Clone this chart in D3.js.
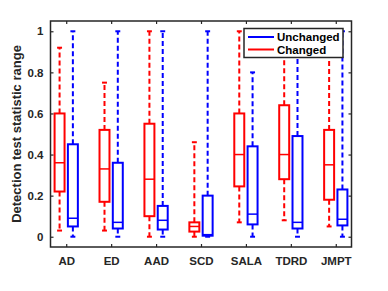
<!DOCTYPE html>
<html><head><meta charset="utf-8">
<script src="https://cdn.jsdelivr.net/npm/d3@7"></script>
<style>body{margin:0;background:#fff}svg{display:block}text{font-family:"Liberation Sans",Arial,sans-serif;font-weight:bold}</style>
</head><body>
<script>
const categories = ["AD","ED","AAD","SCD","SALA","TDRD","JMPT"];
// [whiskerLow, q1, median, q3, whiskerHigh]
const changed = [
  [0.03,0.22,0.36,0.60,0.92],
  [0.03,0.17,0.33,0.52,0.75],
  [0.00,0.10,0.28,0.55,1.00],
  [0.00,0.025,0.05,0.07,0.46],
  [0.07,0.245,0.40,0.60,1.00],
  [0.08,0.28,0.40,0.64,1.00],
  [0.05,0.18,0.35,0.52,1.00]
];
const unchanged = [
  [0.00,0.05,0.09,0.45,1.00],
  [0.00,0.04,0.07,0.36,1.00],
  [0.00,0.035,0.08,0.15,1.00],
  [0.00,0.005,0.01,0.20,1.00],
  [0.00,0.06,0.11,0.44,0.80],
  [0.00,0.04,0.07,0.49,1.00],
  [0.00,0.055,0.085,0.23,1.00]
];
const yTicks = [0,0.2,0.4,0.6,0.8,1];
const seriesNames = ["Unchanged","Changed"];
const colors = {Changed:"#ff0000", Unchanged:"#0000ff"};

const W=388,H=291, L=50.5, R=351.5, T=21, B=247;
const svg = d3.select("body").append("svg").attr("width",W).attr("height",H);
const x = d3.scaleLinear().domain([0.65,7.35]).range([L,R]);
const y = d3.scaleLinear().domain([-0.05,1.05]).range([B,T]);
const off = 0.148, bw = 0.222, capW = 0.11;

function drawBoxes(data, color, dx){
  const g = svg.append("g");
  data.forEach((d,i)=>{
    const cx = x(i+1+dx);
    const [lo,q1,md,q3,hi] = d;
    const xl = x(i+1+dx-bw/2), xr = x(i+1+dx+bw/2);
    g.append("line").attr("x1",cx).attr("x2",cx).attr("y1",y(q3)).attr("y2",y(hi))
      .attr("stroke",color).attr("stroke-width",2).attr("stroke-dasharray","5,3");
    g.append("line").attr("x1",cx).attr("x2",cx).attr("y1",y(q1)).attr("y2",y(lo))
      .attr("stroke",color).attr("stroke-width",2).attr("stroke-dasharray","5,3");
    const cw = x(capW)-x(0);
    [lo,hi].forEach(v=>g.append("line").attr("x1",cx-cw/2).attr("x2",cx+cw/2).attr("y1",y(v)).attr("y2",y(v))
      .attr("stroke",color).attr("stroke-width",2));
    g.append("rect").attr("x",xl).attr("y",y(q3)).attr("width",xr-xl).attr("height",Math.max(0.5,y(q1)-y(q3)))
      .attr("fill","none").attr("stroke",color).attr("stroke-width",2);
    g.append("line").attr("x1",xl).attr("x2",xr).attr("y1",y(md)).attr("y2",y(md))
      .attr("stroke",color).attr("stroke-width",1.5);
  });
}
drawBoxes(changed, colors.Changed, -off);
drawBoxes(unchanged, colors.Unchanged, off);

const xAxis = d3.axisBottom(x).tickValues(categories.map((c,i)=>i+1)).tickFormat((d)=>categories[d-1]).tickSizeInner(-3).tickSizeOuter(0).tickPadding(10);
const gx = svg.append("g").attr("transform",`translate(0,${B})`).call(xAxis);
const yAxis = d3.axisLeft(y).tickValues(yTicks).tickFormat(d3.format("")).tickSizeInner(-3).tickSizeOuter(0).tickPadding(7);
const gy = svg.append("g").attr("transform",`translate(${L},0)`).call(yAxis);
const gt = svg.append("g").attr("transform",`translate(0,${T})`).call(d3.axisTop(x).tickValues(categories.map((c,i)=>i+1)).tickFormat("").tickSizeInner(-3).tickSizeOuter(0));
const gr = svg.append("g").attr("transform",`translate(${R},0)`).call(d3.axisRight(y).tickValues(yTicks).tickFormat("").tickSizeInner(-3).tickSizeOuter(0));
[gx,gy,gt,gr].forEach(g=>{
  g.select(".domain").remove();
  g.selectAll("line").attr("stroke","#262626").attr("stroke-width",1.2);
  g.selectAll("text").attr("fill","#262626").style("font-size","11.5px").style("font-weight","bold");
});
svg.append("rect").attr("x",L).attr("y",T).attr("width",R-L).attr("height",B-T)
  .attr("fill","none").attr("stroke","#262626").attr("stroke-width",1.5);

svg.append("text").attr("transform",`translate(21,${(T+B)/2}) rotate(-90)`).attr("text-anchor","middle")
  .style("font-size","13px").attr("fill","#262626").text("Detection test statistic range");

const lg = svg.append("g").attr("transform","translate(244,28.5)");
lg.append("rect").attr("width",99).attr("height",29).attr("fill","#fff").attr("stroke","#262626").attr("stroke-width",1.5);
seriesNames.forEach((n,i)=>{
  const yy = 8.5 + i*12.5;
  lg.append("line").attr("x1",4).attr("x2",30).attr("y1",yy).attr("y2",yy).attr("stroke",colors[n]).attr("stroke-width",2);
  lg.append("text").attr("x",33).attr("y",yy+4).style("font-size","11.5px").attr("fill","#000").text(n);
});
</script>
</body></html>
